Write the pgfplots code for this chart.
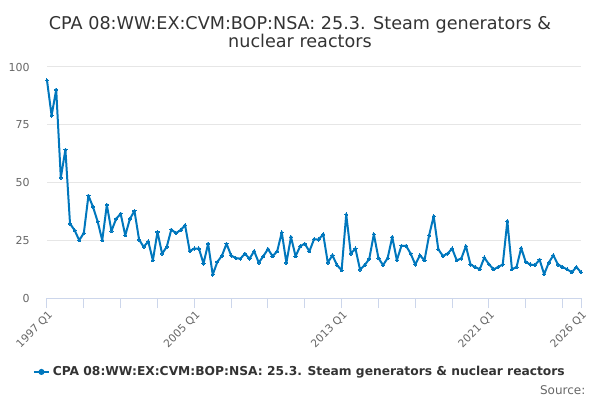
\documentclass[border=0pt]{standalone}
\usepackage{pgfplots}
\pgfplotsset{compat=1.18}
\usepackage{fontspec}
\setmainfont{DejaVu Sans}
\definecolor{line}{RGB}{0,119,189}
\definecolor{grid}{RGB}{230,230,230}
\definecolor{axl}{RGB}{204,214,235}
\definecolor{tlab}{RGB}{102,102,102}
\definecolor{ttl}{RGB}{51,51,51}
\begin{document}
\begin{tikzpicture}
\path[use as bounding box] (0pt,0pt) rectangle (450pt,300pt);
\begin{axis}[
  at={(35.25pt,76.5pt)}, anchor=south west,
  scale only axis, width=400.5pt, height=173.25pt,
  xmin=0, xmax=116, ymin=0, ymax=100,
  axis x line*=bottom, axis y line*=left,
  x axis line style={draw=axl, line width=0.75pt, -},
  y axis line style={draw=none},
  ytick={0,25,50,75,100},
  ymajorgrids, grid style={draw=grid, line width=0.75pt},
  xtick={0,8,...,112,116},
  xticklabels={1997 Q1,,,,2005 Q1,,,,2013 Q1,,,,2021 Q1,,,2026 Q1},
  xtick style={draw=axl, line width=0.75pt},
  major tick length=7.5pt,
  tick align=outside,
  /pgf/number format/assume math mode=true,
  ytick style={draw=none},
  yticklabel style={font=\fontsize{8.25}{10}\selectfont, color=tlab, anchor=east, xshift=-2pt},
  xticklabel style={font=\fontsize{8}{10}\selectfont, color=tlab, rotate=45, anchor=east, xshift=2.5pt, yshift=-5pt},
  legend style={at={(0.474,-0.32)}, anchor=center, draw=none, fill=none,
    font=\bfseries\fontsize{9.2}{11}\selectfont, text=ttl},
  legend image code/.code={\draw[line width=1.5pt] (0pt,0pt) -- (11.5pt,0pt); \fill (5.75pt,0pt) circle (1.5pt);},
  clip=false,
]
\addplot[color=line, line width=1.5pt, line join=round, mark=*, mark size=1.2pt, mark options={line width=0pt}] coordinates {
(0,94.2)(1,79.0)(2,90.2)(3,52.1)(4,64.2)(5,32.2)(6,29.3)(7,25.0)(8,28.1)(9,44.3)
(10,39.4)(11,33.1)(12,25.0)(13,40.3)(14,29.0)(15,34.2)(16,36.5)(17,27.1)(18,34.2)(19,37.7)
(20,25.3)(21,22.1)(22,24.5)(23,16.3)(24,28.6)(25,19.2)(26,22.1)(27,29.6)(28,28.1)(29,29.3)
(30,31.5)(31,20.3)(32,21.4)(33,21.4)(34,14.9)(35,23.5)(36,10.1)(37,15.6)(38,18.3)(39,23.5)
(40,18.4)(41,17.3)(42,17.0)(43,19.2)(44,17.0)(45,20.3)(46,15.3)(47,18.1)(48,21.2)(49,18.1)
(50,20.2)(51,28.4)(52,15.2)(53,26.4)(54,18.1)(55,22.4)(56,23.5)(57,20.2)(58,25.4)(59,25.3)
(60,27.6)(61,15.3)(62,18.5)(63,14.2)(64,12.0)(65,36.2)(66,19.2)(67,21.4)(68,12.3)(69,14.2)
(70,16.9)(71,27.6)(72,17.3)(73,14.2)(74,17.3)(75,26.4)(76,16.4)(77,22.6)(78,22.6)(79,19.2)
(80,14.5)(81,18.5)(82,16.3)(83,27.1)(84,35.4)(85,21.1)(86,18.2)(87,19.2)(88,21.4)(89,16.3)
(90,17.1)(91,22.5)(92,14.5)(93,13.4)(94,12.4)(95,17.5)(96,14.6)(97,12.4)(98,13.4)(99,14.5)
(100,33.3)(101,12.4)(102,13.4)(103,21.6)(104,15.6)(105,14.5)(106,14.2)(107,16.6)(108,10.3)(109,15.3)
(110,18.5)(111,14.5)(112,13.4)(113,12.4)(114,11.1)(115,13.4)(116,11.1)
};
\addlegendentry{CPA 08:WW:EX:CVM:BOP:NSA: 25.3. Steam generators \& nuclear reactors}
\end{axis}
\node[font=\fontsize{13.2}{13.5}\selectfont, text=ttl, align=center] at (225pt,276pt) {CPA 08:WW:EX:CVM:BOP:NSA: 25.3. Steam generators \&\\nuclear reactors};
\node[font=\fontsize{9}{11}\selectfont, text=tlab, anchor=east] at (442.5pt,7.5pt) {Source:};
\end{tikzpicture}
\end{document}
